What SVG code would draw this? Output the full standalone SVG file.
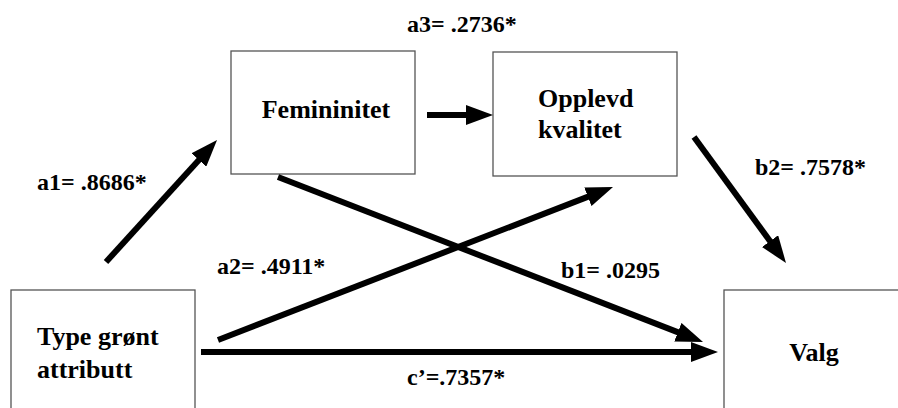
<svg xmlns="http://www.w3.org/2000/svg" width="898" height="408" viewBox="0 0 898 408">
<style>
.box{fill:#fff;stroke:#555;stroke-width:1.3}
.conn{stroke:#000;stroke-width:6;fill:none;marker-end:url(#ah)}
</style>
<defs>
<marker id="ah" markerUnits="userSpaceOnUse" markerWidth="28" markerHeight="20" refX="17" refY="10" orient="auto">
<path d="M0,0 L27,10 L0,20 z" fill="#000"/>
</marker>
</defs>
<rect width="898" height="408" fill="#fff"/>
<g id="node-femininitet">
<rect class="box" x="231" y="51" width="184" height="123"/>
<text x="326" y="118" text-anchor="middle" style="font-family:'Liberation Serif',serif;font-weight:700;font-size:26px">Femininitet</text>
</g>
<g id="node-opplevd">
<rect class="box" x="493" y="52" width="184" height="124"/>
<text x="538" y="107" style="font-family:'Liberation Serif',serif;font-weight:700;font-size:26px">Opplevd</text>
<text x="538" y="138" style="font-family:'Liberation Serif',serif;font-weight:700;font-size:26px">kvalitet</text>
</g>
<g id="node-type">
<rect class="box" x="11" y="290" width="184" height="130"/>
<text x="37" y="345" style="font-family:'Liberation Serif',serif;font-weight:700;font-size:26px">Type grønt</text>
<text x="37" y="378" style="font-family:'Liberation Serif',serif;font-weight:700;font-size:26px">attributt</text>
</g>
<g id="node-valg">
<rect class="box" x="724" y="290" width="200" height="130"/>
<text x="814" y="361" text-anchor="middle" style="font-family:'Liberation Serif',serif;font-weight:700;font-size:26px">Valg</text>
</g>
<g id="connectors">
<line class="conn" x1="106" y1="262" x2="210.3" y2="147.4"/>
<line class="conn" x1="427" y1="115" x2="483" y2="115"/>
<line class="conn" x1="694" y1="137" x2="780.1" y2="254.9"/>
<line class="conn" x1="218" y1="340" x2="603.7" y2="190.6"/>
<line class="conn" x1="278" y1="177" x2="693.7" y2="338.4"/>
<line class="conn" x1="201" y1="352" x2="708" y2="352"/>
</g>
<g id="labels">
<text x="407" y="32" style="font-family:'Liberation Serif',serif;font-weight:700;font-size:24px">a3= .2736*</text>
<text x="37" y="190" style="font-family:'Liberation Serif',serif;font-weight:700;font-size:24px">a1= .8686*</text>
<text x="217" y="274" style="font-family:'Liberation Serif',serif;font-weight:700;font-size:24px">a2= .4911*</text>
<text x="561" y="278" style="font-family:'Liberation Serif',serif;font-weight:700;font-size:24px">b1= .0295</text>
<text x="755" y="175" style="font-family:'Liberation Serif',serif;font-weight:700;font-size:24px">b2= .7578*</text>
<text x="407" y="385" style="font-family:'Liberation Serif',serif;font-weight:700;font-size:24px">c’=.7357*</text>
</g>
</svg>
